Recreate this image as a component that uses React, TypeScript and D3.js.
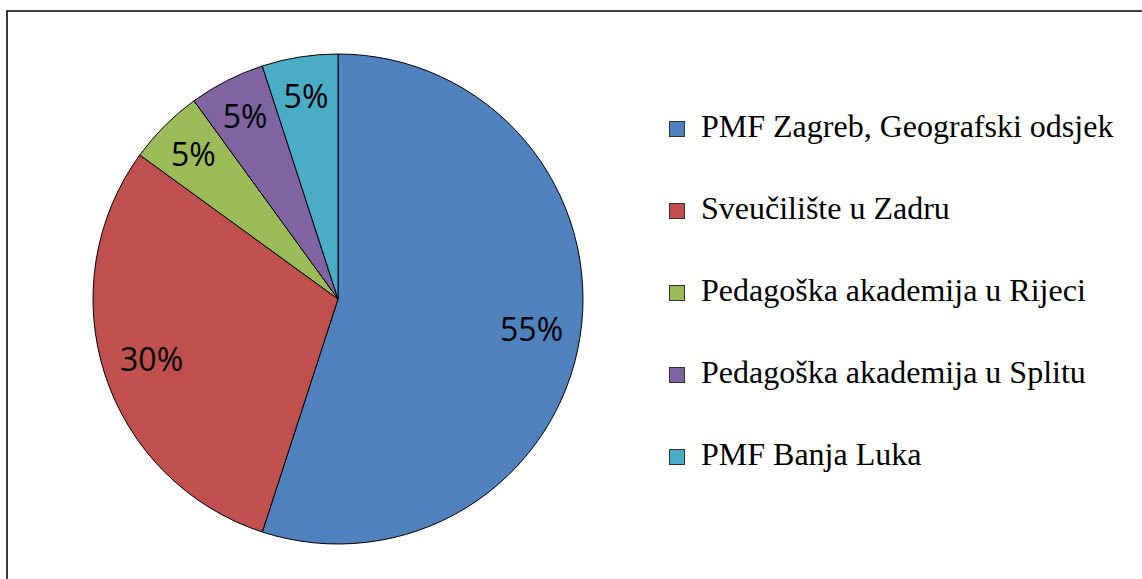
import React, { useEffect, useRef } from 'react';
import * as d3 from 'd3';

const categories = [
  'PMF Zagreb, Geografski odsjek',
  'Sveučilište u Zadru',
  'Pedagoška akademija u Rijeci',
  'Pedagoška akademija u Splitu',
  'PMF Banja Luka',
];
const values = [55, 30, 5, 5, 5];
const colors = ['#4F81BD', '#C0504D', '#9BBB59', '#8064A2', '#4BACC6'];

const App = () => {
  const svgRef = useRef<SVGSVGElement>(null);
  const width = 1142;
  const height = 579;

  useEffect(() => {
    const svg = d3.select(svgRef.current);
    svg.selectAll('*').remove();

    // outer frame (runs off the right and bottom edges)
    svg.append('rect')
      .attr('x', 7).attr('y', 11)
      .attr('width', 1160).attr('height', 600)
      .attr('fill', 'white')
      .attr('stroke', 'black')
      .attr('stroke-width', 1.5);

    const cx = 338, cy = 299, radius = 245;
    const total = d3.sum(values);

    const pie = d3.pie<number>().sort(null).value(d => d);
    const arcs = pie(values);
    const arc = d3.arc<d3.PieArcDatum<number>>().innerRadius(0).outerRadius(radius);

    const g = svg.append('g').attr('transform', `translate(${cx},${cy})`);

    g.selectAll('path')
      .data(arcs)
      .enter().append('path')
      .attr('d', arc)
      .attr('fill', (d, i) => colors[i])
      .attr('stroke', 'black')
      .attr('stroke-width', 1)
      .attr('stroke-linejoin', 'round');

    // percentage labels
    g.selectAll('text.pct')
      .data(arcs)
      .enter().append('text')
      .attr('class', 'pct')
      .attr('transform', d => {
        const r = d.value > 10 ? radius * 0.8 : radius * 0.835;
        const a = (d.startAngle + d.endAngle) / 2;
        return `translate(${Math.sin(a) * r},${-Math.cos(a) * r})`;
      })
      .attr('text-anchor', 'middle')
      .attr('dy', '0.36em')
      .style('font-family', '"Open Sans", sans-serif')
      .style('font-size', '32px')
      .attr('fill', 'black')
      .text(d => `${Math.round((d.value / total) * 100)}%`);

    // legend
    const legend = svg.append('g').attr('transform', 'translate(669,121)');
    const rowStep = 82;
    categories.forEach((c, i) => {
      const row = legend.append('g').attr('transform', `translate(0,${i * rowStep})`);
      row.append('rect')
        .attr('x', 0.5).attr('y', 0.5)
        .attr('width', 15).attr('height', 15)
        .attr('fill', colors[i])
        .attr('stroke', '#333')
        .attr('stroke-width', 1);
      row.append('text')
        .attr('x', 32)
        .attr('y', 16)
        .style('font-family', '"Liberation Serif", "Times New Roman", serif')
        .style('font-size', '32px')
        .attr('fill', 'black')
        .text(c);
    });
  }, []);

  return (
    <svg
      ref={svgRef}
      width={width}
      height={height}
      style={{ position: 'absolute', left: 0, top: 0, display: 'block', background: 'white' }}
    />
  );
};

export default App;
